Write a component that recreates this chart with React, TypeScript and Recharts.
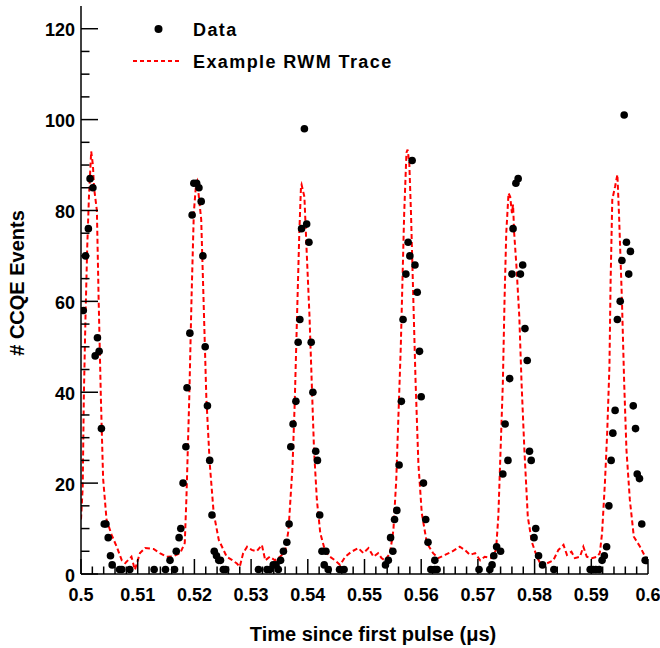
import React from 'react';
import { ComposedChart, Line, Scatter, XAxis, YAxis } from 'recharts';

// CCQE event counts
const dataTime = [
  0.5004, 0.5008, 0.5013, 0.5016, 0.5021, 0.5025, 0.5029, 0.5032, 0.5036, 0.5041, 0.5044, 0.5048,
  0.5052, 0.5055, 0.5068, 0.5072, 0.5086, 0.5129, 0.5149, 0.5157, 0.5165, 0.5168, 0.5173, 0.5176,
  0.518, 0.5185, 0.5187, 0.5192, 0.5196, 0.5199, 0.5204, 0.5208, 0.5212, 0.5215, 0.5219, 0.5223,
  0.5227, 0.5231, 0.5235, 0.5239, 0.5243, 0.5246, 0.5251, 0.5255, 0.5313, 0.5328, 0.5333, 0.5339,
  0.5344, 0.5348, 0.5352, 0.5357, 0.5363, 0.5367, 0.537, 0.5374, 0.5379, 0.5383, 0.5386, 0.5389,
  0.5394, 0.5398, 0.5402, 0.5406, 0.5409, 0.5414, 0.5417, 0.5421, 0.5425, 0.5429, 0.5432, 0.5436,
  0.5456, 0.5464, 0.5537, 0.5542, 0.5546, 0.555, 0.5553, 0.5557, 0.5561, 0.5565, 0.5568, 0.5573,
  0.5577, 0.558, 0.5584, 0.5589, 0.5593, 0.5597, 0.56, 0.5604, 0.5608, 0.5612, 0.5617, 0.5624,
  0.5624, 0.5628, 0.5702, 0.5721, 0.5725, 0.5728, 0.5733, 0.574, 0.5744, 0.5748, 0.5753, 0.5756,
  0.576, 0.5762, 0.5767, 0.5771, 0.5775, 0.5779, 0.5783, 0.5787, 0.5791, 0.5794, 0.5799, 0.5802,
  0.5807, 0.5814, 0.5834, 0.5898, 0.5903, 0.5908, 0.5914, 0.5919, 0.5923, 0.5927, 0.5931, 0.5935,
  0.5938, 0.5942, 0.5946, 0.5951, 0.5954, 0.5958, 0.5962, 0.5966, 0.5969, 0.5974, 0.5978, 0.5981,
  0.5985, 0.5989, 0.5995, 0.5997,
];
const dataCounts = [
  58, 70, 76, 87, 85, 48, 52, 49, 32, 11, 11, 8,
  4, 2, 1, 1, 1, 1, 1, 3, 1, 5, 8, 10,
  20, 28, 41, 53, 79, 86, 86, 85, 82, 70, 50, 37,
  25, 13, 5, 4, 3, 3, 1, 1, 1, 1, 1, 2,
  2, 1, 3, 5, 7, 11, 28, 33, 38, 51, 56, 76,
  98, 77, 73, 51, 40, 27, 25, 13, 5, 2, 5, 1,
  1, 1, 2, 3, 8, 5, 12, 14, 24, 38, 56, 66,
  73, 70, 91, 68, 62, 49, 39, 20, 12, 7, 1, 3,
  1, 1, 1, 1, 2, 4, 6, 5, 22, 33, 25, 43,
  66, 76, 86, 87, 66, 68, 54, 47, 27, 25, 8, 10,
  4, 2, 1, 1, 1, 1, 1, 3, 4, 6, 15, 25,
  31, 36, 56, 60, 69, 101, 73, 66, 71, 37, 32, 22,
  21, 11, 3, 3,
];

// RWM trace (scaled)
const traceTime = [
  0.5, 0.5003, 0.5005, 0.5008, 0.5011, 0.5014, 0.5018, 0.5021, 0.5023, 0.5028, 0.5031, 0.5035,
  0.5039, 0.5045, 0.5054, 0.5063, 0.5072, 0.5078, 0.5089, 0.5095, 0.5104, 0.5113, 0.5128, 0.5139,
  0.5151, 0.5163, 0.5175, 0.5183, 0.5186, 0.5191, 0.5195, 0.5199, 0.5203, 0.5205, 0.5212, 0.5216,
  0.5221, 0.5227, 0.5234, 0.5243, 0.5257, 0.5266, 0.5275, 0.528, 0.5286, 0.5293, 0.5301, 0.531,
  0.5319, 0.5325, 0.5333, 0.5342, 0.5351, 0.536, 0.5366, 0.5373, 0.5377, 0.5381, 0.5385, 0.5388,
  0.5389, 0.5394, 0.5398, 0.5403, 0.5407, 0.5411, 0.5416, 0.5422, 0.543, 0.5439, 0.5448, 0.5457,
  0.5466, 0.5477, 0.5489, 0.5498, 0.5507, 0.5516, 0.5524, 0.553, 0.5536, 0.5545, 0.5551, 0.5556,
  0.556, 0.5564, 0.5567, 0.557, 0.5574, 0.5576, 0.5579, 0.5582, 0.5586, 0.559, 0.5595, 0.5601,
  0.561, 0.5621, 0.563, 0.5642, 0.5654, 0.5668, 0.5677, 0.5686, 0.5695, 0.5704, 0.5712, 0.5724,
  0.5732, 0.5736, 0.574, 0.5744, 0.5747, 0.575, 0.5754, 0.5757, 0.576, 0.5762, 0.5764, 0.5768,
  0.5773, 0.5777, 0.5782, 0.5788, 0.5795, 0.5804, 0.5813, 0.5821, 0.5833, 0.5842, 0.5851, 0.5857,
  0.5865, 0.5871, 0.588, 0.5886, 0.5892, 0.5901, 0.591, 0.5915, 0.5919, 0.5924, 0.5928, 0.5932,
  0.5934, 0.5937, 0.5942, 0.5946, 0.5949, 0.5954, 0.5958, 0.5962, 0.5968, 0.5975, 0.5986, 0.5995,
  0.6,
];
const traceAmp = [
  12, 19, 39, 57, 72, 83, 93, 90, 85, 80, 61, 39,
  21, 12, 8.6, 6, 3, 2.4, 3.8, 0.9, 4.6, 5.7, 5.5, 4.6,
  3.8, 3.9, 4.6, 6.8, 17, 39, 61, 79.5, 86, 86.5, 78, 61,
  39, 24.4, 13.4, 7.5, 3.8, 3.1, 2.3, 1.6, 4.6, 6, 5.3, 5,
  6.4, 3, 3.8, 3, 3.8, 4.9, 9.7, 23.6, 38, 56.7, 75, 85.3,
  85.7, 83, 71, 56.7, 42, 27.3, 16.3, 9, 5.3, 3.8, 3, 2,
  3.8, 4.9, 5.7, 4.6, 5.7, 3.8, 4.6, 3.5, 3, 4.6, 9.7, 20.7,
  35.4, 50, 64.7, 79.4, 92.7, 93.4, 90.5, 79.4, 61, 42.7, 24.4, 13.4,
  6.8, 4.6, 3.5, 4.2, 4.9, 6, 5.3, 4.2, 4.6, 3, 3.8, 3.5,
  5.3, 12.6, 27.3, 42, 60.4, 75, 83.8, 83, 79.4, 81.3, 75, 67.7,
  56.7, 42, 27.3, 12.6, 7.1, 3.8, 1.6, 2.3, 3, 5.3, 6.4, 4.2,
  4.9, 3.5, 3.8, 6, 3.8, 3.5, 3.8, 4.6, 9, 20, 31, 45.7,
  64, 82.4, 85.3, 87.9, 78.7, 60.4, 42, 27.3, 16.3, 8.2, 6, 3.8,
  2.5,
];

const xTickLabels = ['0.5', '0.51', '0.52', '0.53', '0.54', '0.55', '0.56', '0.57', '0.58', '0.59', '0.6'];
const yTickLabels = ['0', '20', '40', '60', '80', '100', '120'];

const points = dataTime.map((t, i) => ({ x: t, y: dataCounts[i] }));
const trace = traceTime.map((t, i) => ({ x: t, y: traceAmp[i] }));

// ROOT style: major + minor ticks, drawn inward
const xTicks: number[] = [];
for (let i = 0; i <= 50; i++) xTicks.push(+(0.5 + i * 0.002).toFixed(3));
const yTicks: number[] = [];
for (let v = 0; v <= 120; v += 5) yTicks.push(v);

const FONT = '"Liberation Sans", Arial, Helvetica, sans-serif';

const XTick = (props: any) => {
  const { x, y, payload } = props;
  const step = Math.round((payload.value - 0.5) * 1000);
  const major = step % 10 === 0;
  return (
    <g>
      <line x1={x} x2={x} y1={y} y2={y - (major ? 15 : 7.5)} stroke="#000" strokeWidth={1.5} />
      {major && (
        <text x={x} y={y + 27} textAnchor="middle" fontFamily={FONT} fontWeight="bold" fontSize={18} fill="#000">
          {xTickLabels[step / 10]}
        </text>
      )}
    </g>
  );
};

const YTick = (props: any) => {
  const { x, y, payload } = props;
  const major = payload.value % 20 === 0;
  return (
    <g>
      <line x1={x} x2={x + (major ? 17 : 8.5)} y1={y} y2={y} stroke="#000" strokeWidth={1.5} />
      {major && (
        <text x={x - 6} y={y + 7.5} textAnchor="end" fontFamily={FONT} fontWeight="bold" fontSize={18} fill="#000">
          {yTickLabels[payload.value / 20]}
        </text>
      )}
    </g>
  );
};

const Dot = (props: any) => <circle cx={props.cx} cy={props.cy} r={3.8} fill="#000" />;

export default function App() {
  return (
    <div style={{ position: 'absolute', left: 0, top: 0, width: 660, height: 648, background: '#fff' }}>
      <ComposedChart width={660} height={648} margin={{ top: 6, right: 12, bottom: 0, left: 0 }}>
        <XAxis
          dataKey="x"
          type="number"
          domain={[0.5, 0.6]}
          ticks={xTicks}
          interval={0}
          allowDataOverflow
          height={74}
          tickSize={0}
          tickMargin={0}
          tickLine={false}
          tick={<XTick />}
          axisLine={{ stroke: '#000', strokeWidth: 1.5 }}
          label={() => (
            <text x={373} y={641} textAnchor="middle" fontFamily={FONT} fontWeight="bold" fontSize={20} fill="#000">
              Time since first pulse (μs)
            </text>
          )}
        />
        <XAxis
          xAxisId="top"
          orientation="top"
          type="number"
          domain={[0.5, 0.6]}
          height={0}
          tick={false}
          tickLine={false}
          axisLine={{ stroke: '#000', strokeWidth: 1.5 }}
        />
        <YAxis
          type="number"
          domain={[0, 125]}
          ticks={yTicks}
          interval={0}
          allowDataOverflow
          width={81}
          tickSize={0}
          tickMargin={0}
          tickLine={false}
          tick={<YTick />}
          axisLine={{ stroke: '#000', strokeWidth: 1.5 }}
          label={() => (
            <text
              x={24}
              y={283}
              transform="rotate(-90 24 283)"
              textAnchor="middle"
              fontFamily={FONT}
              fontWeight="bold"
              fontSize={20}
              fill="#000"
            >
              # CCQE Events
            </text>
          )}
        />
        <YAxis
          yAxisId="right"
          orientation="right"
          type="number"
          domain={[0, 125]}
          width={0}
          tick={false}
          tickLine={false}
          axisLine={{ stroke: '#000', strokeWidth: 1.5 }}
        />
        <Line
          data={trace}
          dataKey="y"
          type="linear"
          stroke="#ff0000"
          strokeWidth={2}
          strokeDasharray="5 3"
          dot={false}
          activeDot={false}
          isAnimationActive={false}
        />
        <Scatter data={points} dataKey="y" shape={<Dot />} isAnimationActive={false} />
      </ComposedChart>
      <svg width={660} height={648} style={{ position: 'absolute', left: 0, top: 0, pointerEvents: 'none' }}>
        <circle cx={158.5} cy={29} r={4} fill="#000" />
        <text x={193} y={35.5} fontFamily={FONT} fontWeight="bold" fontSize={18} letterSpacing={1.4} fill="#000">
          Data
        </text>
        <line x1={133} x2={180} y1={61} y2={61} stroke="#ff0000" strokeWidth={2} strokeDasharray="4 3" />
        <text x={193} y={67.5} fontFamily={FONT} fontWeight="bold" fontSize={18} letterSpacing={1.4} fill="#000">
          Example RWM Trace
        </text>
      </svg>
    </div>
  );
}
